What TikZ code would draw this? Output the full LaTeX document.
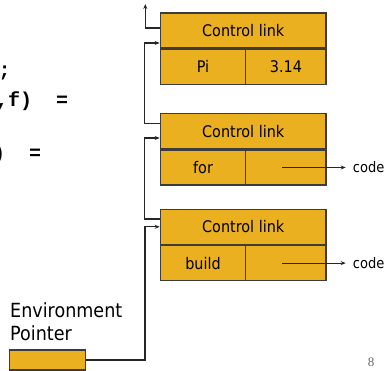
\documentclass[tikz,border=0pt]{standalone}
\usepackage{fontspec}
\setmainfont{DejaVu Sans}[FakeStretch=0.9]
\newfontfamily\codefont{Liberation Mono}
\newfontfamily\pagefont{Liberation Serif}
\usetikzlibrary{arrows.meta,positioning}
\definecolor{slotfill}{HTML}{EAB01F}
\definecolor{slotline}{HTML}{3C3C3C}

\begin{document}
\begin{tikzpicture}[x=1pt,y=-1pt,
        slot/.style={draw=slotline,line width=1.3pt,fill=slotfill,inner sep=0pt,
            minimum height=35pt,font=\fontsize{16}{19}\selectfont},
        link/.style={draw=black!85,line width=1.1pt,-{Stealth[length=5pt,width=4pt]}},
        codetxt/.style={font=\codefont\bfseries\fontsize{20}{24}\selectfont,inner sep=0pt,anchor=base west},
        codelbl/.style={font=\fontsize{14.5}{17}\selectfont,inner sep=0pt}]
        \useasboundingbox (0,0) rectangle (386,371);

        % Program text (cut off at the left)
        \node[codetxt] (ln1) at (-1.5,77) {;};
        \node[codetxt] (ln2) at (-4,107) {,f)\ \ =};
        \node[codetxt] (ln3) at (-7,159.5) {)\ \ =};

        % Record for Pi
        \node[slot,minimum width=165.7pt] (hd1) at (243.2,30.5) {Control link};
        \node[slot,minimum width=85.4pt,anchor=north west] (nm1) at (hd1.south west) {Pi};
        \node[slot,minimum width=80.3pt,anchor=north east] (vl1) at (hd1.south east) {3.14};

        % Record for for
        \node[slot,minimum width=165.7pt] (hd2) at (243.2,131.2) {Control link};
        \node[slot,minimum width=85.4pt,anchor=north west] (nm2) at (hd2.south west) {for};
        \node[slot,minimum width=80.3pt,anchor=north east] (vl2) at (hd2.south east) {};
        \node[codelbl,right=26pt of vl2] (code2) {code};

        % Record for build
        \node[slot,minimum width=165.7pt] (hd3) at (243.2,226.8) {Control link};
        \node[slot,minimum width=85.4pt,anchor=north west] (nm3) at (hd3.south west) {build};
        \node[slot,minimum width=80.3pt,anchor=north east] (vl3) at (hd3.south east) {};
        \node[codelbl,right=26pt of vl3] (code3) {code};

        % Environment pointer
        \node[slot,minimum width=76pt,minimum height=20pt] (ep) at (47.7,360) {};
        \node[font=\fontsize{19.5}{23.4}\selectfont,align=left,inner sep=0pt,anchor=south west]
            (eptxt) at (10,341) {Environment\\Pointer};

        % Control links
        \coordinate (up) at (145.3,4);
        \draw[link] ([yshift=2.5pt]hd1.west) -| (up);
        \draw[link] ([yshift=8pt]hd2.west) -- ++(-15,0) |- ([yshift=-12.5pt]hd1.west);
        \draw[link] ([yshift=7.8pt]hd3.west) -- ++(-15,0) |- ([yshift=-6.8pt]hd2.west);
        \draw[link] (ep.east) -- ++(58.6,0) |- (hd3.west);

        % Code pointers
        \draw[link] ([xshift=-4pt]vl2.center) -- ([xshift=-7pt]code2.west);
        \draw[link] ([xshift=-4pt]vl3.center) -- ([xshift=-7pt]code3.west);

        % Slide number
        \node[font=\pagefont\fontsize{13}{15}\selectfont,text=black!60,inner sep=0pt] (pg) at (371,362) {8};
    \end{tikzpicture}
\end{document}
